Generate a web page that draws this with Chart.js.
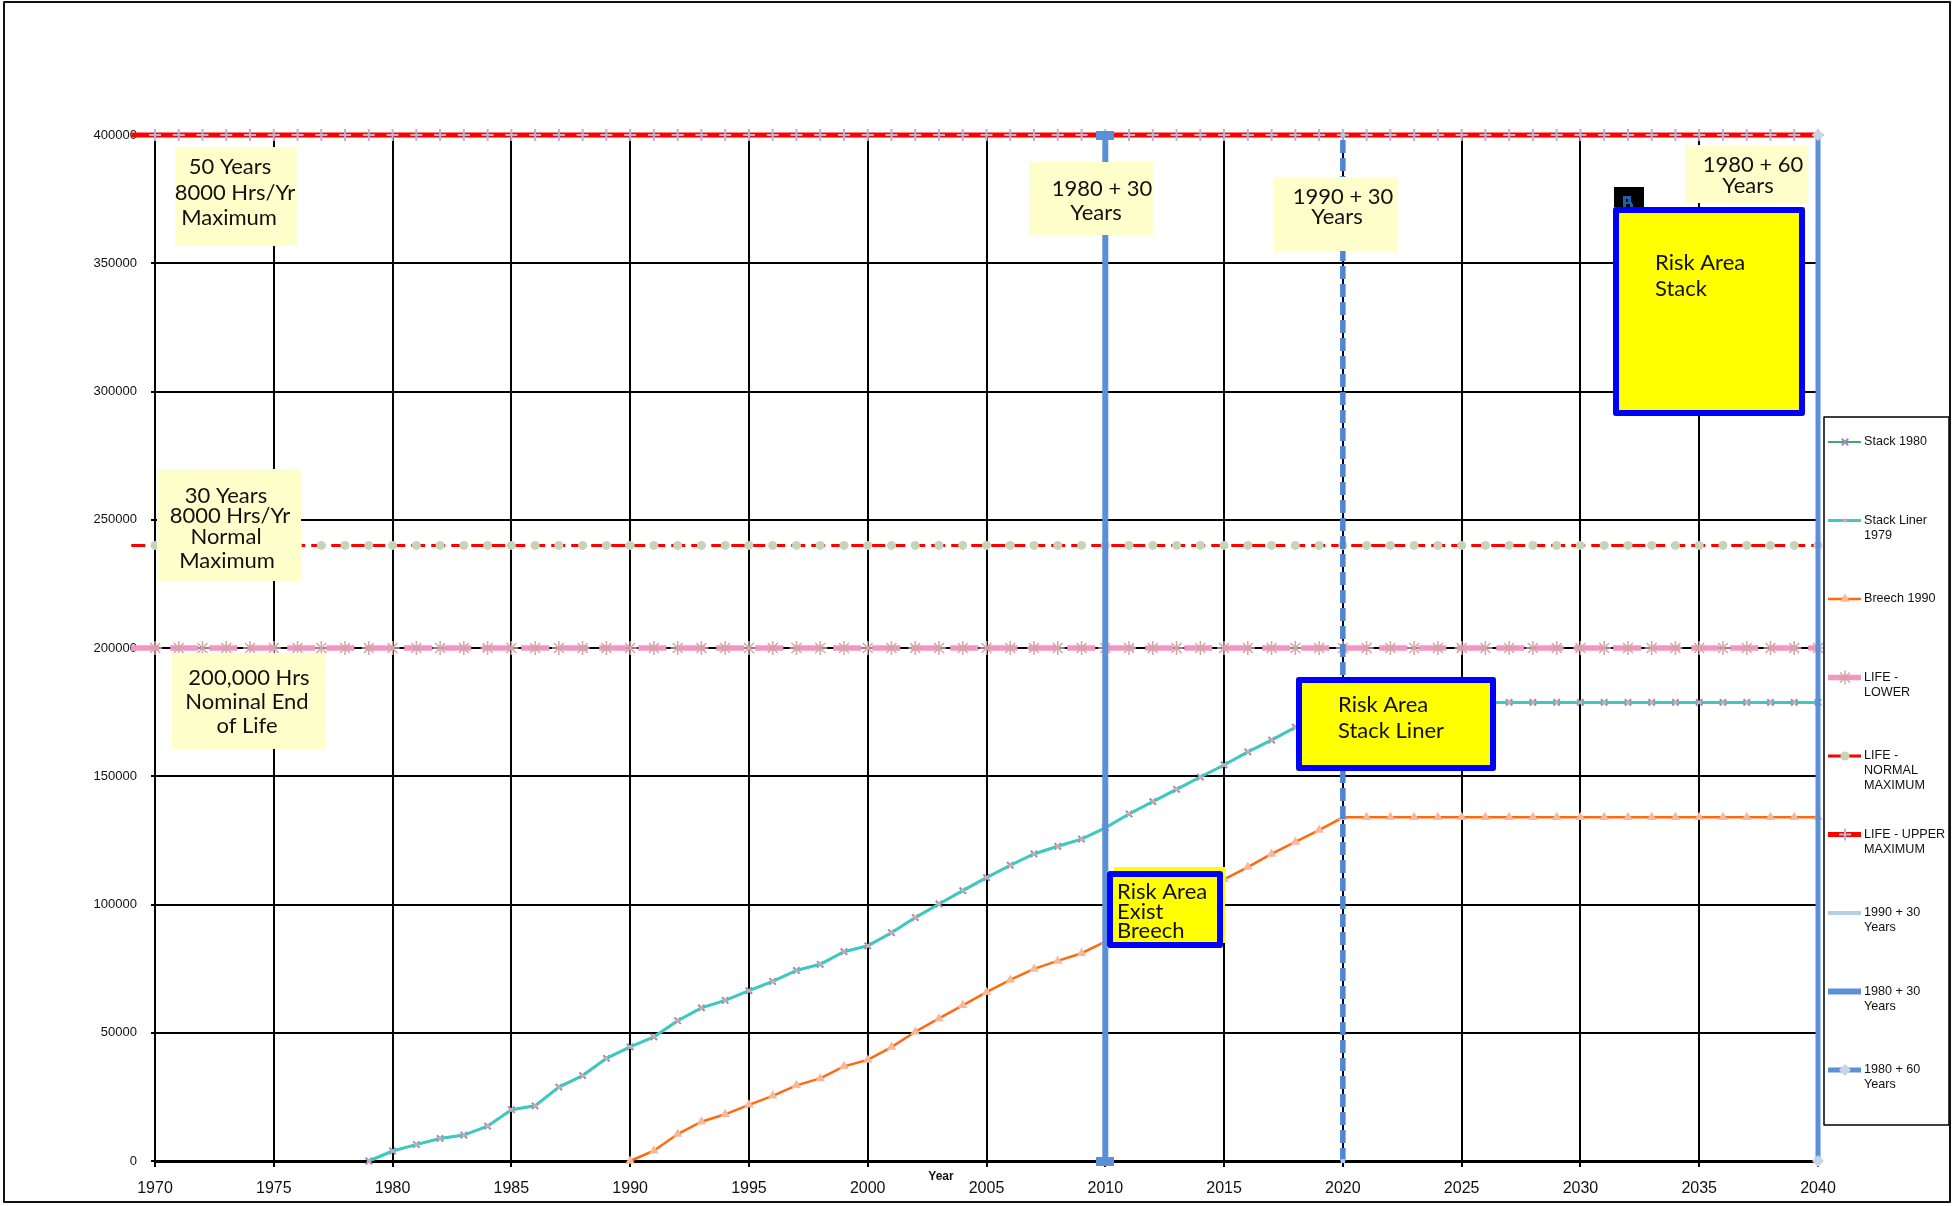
<!DOCTYPE html>
<html>
<head>
<meta charset="utf-8">
<title>Operating Hours - Stack, Liner and Breech</title>
<script src="https://cdn.jsdelivr.net/npm/chart.js@4.4.1/dist/chart.umd.min.js"></script>
<style>
  html, body { margin: 0; padding: 0; background: #fff; }
</style>
</head>
<body>
<canvas id="hoursChart" width="1953" height="1206"></canvas>
<script>
// cumulative running hours, one value per year
const stackStart = 1979;
const stackHours = [
  0, 3900, 6400, 8800, 10100, 13600, 20000, 21500, 28800, 33300,
  40000, 44500, 48400, 54700, 59700, 62600, 66400, 70000, 74300, 76700,
  81600, 83900, 89000, 94900, 100200, 105400, 110500, 115300, 119700, 122700,
  125500, 129900, 135300, 140100, 144900, 149700, 154400, 159500, 164100, 169100,
  174000, 178800, 178800, 178800, 178800, 178800, 178800, 178800, 178800, 178800,
  178800, 178800, 178800, 178800, 178800, 178800, 178800, 178800, 178800, 178800,
  178800, 178800
];

const breechStart = 1990;
const breechHours = [
  0, 4000, 10500, 15300, 18200, 21900, 25400, 29500, 32200, 36900,
  39400, 44400, 50400, 55600, 60700, 65800, 70600, 74900, 78000, 81000,
  85500, 90500, 95500, 100000, 105000, 109800, 114600, 119700, 124400, 129000,
  134000, 134000, 134000, 134000, 134000, 134000, 134000, 134000, 134000, 134000,
  134000, 134000, 134000, 134000, 134000, 134000, 134000, 134000, 134000, 134000,
  134000
];

// life limits (hours), drawn across every year
const lifeFirstYear = 1969;
const lifeLastYear = 2040;
const lifeLower = 200000;
const lifeNormal = 240000;
const lifeUpper = 400000;

// service-life milestones: 1990+30, 1980+30, 1980+60
const milestoneYears = [2020, 2010, 2040];
const milestoneSpan = [0, 400000];

const xTicks = { min: 1970, max: 2040, step: 5 };
const yTicks = { min: 0, max: 400000, step: 50000 };

const pts = (start, values) => values.map((y, i) => ({ x: start + i, y: y }));
const flat = (value) => {
  const out = [];
  for (let yr = lifeFirstYear; yr <= lifeLastYear; yr++) out.push({ x: yr, y: value });
  return out;
};
const vline = (year) => milestoneSpan.map(y => ({ x: year, y: y }));
// no marker on the lead-in point left of the axis
const edgeRadius = (r) => (c) => (c.raw && c.raw.x < xTicks.min ? 0 : r);

const blue = '#5B8FD8';
const barMark = document.createElement('canvas');
barMark.width = 18;
barMark.height = 9;
const bm = barMark.getContext('2d');
bm.fillStyle = blue;
bm.fillRect(0, 0, 18, 9);

const font = 'Arial, "Liberation Sans", sans-serif';
const noteFont = '22px Lato, Carlito, "Open Sans", sans-serif';

const datasets = [
  {
    label: 'Stack 1980', legendLines: ['Stack 1980'],
    data: pts(stackStart, stackHours),
    borderColor: '#3FA877', borderWidth: 2,
    pointStyle: 'crossRot', pointRadius: 4.5, pointBorderWidth: 2,
    pointBorderColor: '#9B88BE', pointBackgroundColor: '#9B88BE',
    order: 9
  },
  {
    label: 'Stack Liner 1979', legendLines: ['Stack Liner', '1979'],
    data: pts(stackStart, stackHours),
    borderColor: '#3DC8C2', borderWidth: 3,
    pointStyle: 'rect', pointRadius: 2.5, pointBorderWidth: 0,
    pointBorderColor: '#E2A2A2', pointBackgroundColor: '#E2A2A2',
    order: 8
  },
  {
    label: 'Breech 1990', legendLines: ['Breech 1990'],
    data: pts(breechStart, breechHours),
    borderColor: '#FF6A10', borderWidth: 2.5,
    pointStyle: 'triangle', pointRadius: 5.5, pointBorderWidth: 0,
    pointBorderColor: '#F8B898', pointBackgroundColor: '#F8B898',
    order: 7
  },
  {
    label: 'LIFE - LOWER', legendLines: ['LIFE -', 'LOWER'],
    data: flat(lifeLower),
    borderColor: '#F595C6', borderWidth: 5.5, borderDash: [28, 11],
    pointStyle: 'star', pointRadius: edgeRadius(7), pointBorderWidth: 1.5,
    pointBorderColor: '#D4A4A8', pointBackgroundColor: '#D4A4A8',
    order: 6
  },
  {
    label: 'LIFE - NORMAL MAXIMUM', legendLines: ['LIFE -', 'NORMAL', 'MAXIMUM'],
    data: flat(lifeNormal),
    borderColor: '#FF0000', borderWidth: 3, borderDash: [14, 6],
    pointStyle: 'circle', pointRadius: edgeRadius(4.5), pointBorderWidth: 0,
    pointBorderColor: '#C5D5B6', pointBackgroundColor: '#C5D5B6',
    order: 5
  },
  {
    label: 'LIFE - UPPER MAXIMUM', legendLines: ['LIFE - UPPER', 'MAXIMUM'],
    data: flat(lifeUpper),
    borderColor: '#FF0000', borderWidth: 5,
    pointStyle: 'cross', pointRadius: edgeRadius(6), pointBorderWidth: 2,
    pointBorderColor: '#B5B5D5', pointBackgroundColor: '#B5B5D5',
    order: 4
  },
  {
    label: '1990 + 30 Years', legendLines: ['1990 + 30', 'Years'],
    legendColor: '#B7CFE2', legendWidth: 4, legendNoMark: true,
    data: vline(milestoneYears[0]),
    borderColor: '#4F86D4', borderWidth: 5.5, borderDash: [13, 5],
    pointStyle: 'rect', pointRadius: 3, pointBorderWidth: 0,
    pointBorderColor: '#A9CBEA', pointBackgroundColor: '#A9CBEA',
    order: 3
  },
  {
    label: '1980 + 30 Years', legendLines: ['1980 + 30', 'Years'],
    legendWidth: 6, legendNoMark: true,
    data: vline(milestoneYears[1]),
    borderColor: blue, borderWidth: 6,
    pointStyle: barMark, pointRadius: 5, pointBorderWidth: 0,
    order: 2
  },
  {
    label: '1980 + 60 Years', legendLines: ['1980 + 60', 'Years'],
    data: vline(milestoneYears[2]),
    borderColor: blue, borderWidth: 5,
    pointStyle: 'rectRot', pointRadius: 6, pointBorderWidth: 0,
    pointBorderColor: '#C9D3E6', pointBackgroundColor: '#C9D3E6',
    order: 1
  }
];
datasets.forEach(d => { d.clip = false; d.tension = 0; d.fill = false; });

// pale text boxes: [x, y, w, h] and centred lines
const notes = [
  { box: [175, 147, 122, 99], lines: [['50 Years', 230, 167], ['8000 Hrs/Yr', 235, 193], ['Maximum', 229, 218]] },
  { box: [157, 469, 144, 112], lines: [['30 Years', 226, 496], ['8000 Hrs/Yr', 230, 516], ['Normal', 226, 537], ['Maximum', 227, 561]] },
  { box: [172, 653, 153, 96], lines: [['200,000 Hrs', 249, 678], ['Nominal End', 247, 702], ['of Life', 247, 726]] },
  { box: [1029, 162, 124, 73], lines: [['1980 + 30', 1102, 189], ['Years', 1096, 213]] },
  { box: [1274, 177, 124, 74], lines: [['1990 + 30', 1343, 197], ['Years', 1337, 217]] },
  { box: [1685, 145, 123, 58], lines: [['1980 + 60', 1753, 165], ['Years', 1748, 186]] }
];

// yellow risk boxes with blue frame, left aligned lines
const risks = [
  { box: [1613, 207, 192, 209], lines: [['Risk Area', 1655, 263], ['Stack', 1655, 289]] },
  { box: [1296, 677, 200, 94], lines: [['Risk Area', 1338, 705], ['Stack Liner', 1338, 731]] },
  { box: [1107, 871, 116, 77], lines: [['Risk Area', 1117, 892], ['Exist', 1117, 912], ['Breech', 1117, 931]] }
];

function drawMark(ctx, ds, x, y) {
  const style = ds.pointStyle;
  const r = typeof ds.pointRadius === 'function' ? ds.pointRadius({ raw: { x: xTicks.min } }) : ds.pointRadius;
  ctx.save();
  ctx.fillStyle = ds.pointBackgroundColor || ds.borderColor;
  ctx.strokeStyle = ds.pointBorderColor || ds.borderColor;
  ctx.lineWidth = ds.pointBorderWidth;
  if (Chart.helpers && Chart.helpers.drawPoint) {
    Chart.helpers.drawPoint(ctx, { pointStyle: style, radius: r, borderWidth: ds.pointBorderWidth, rotation: 0 }, x, y);
  } else {
    ctx.beginPath();
    ctx.arc(x, y, r, 0, Math.PI * 2);
    ctx.fill();
  }
  ctx.restore();
}

const overlay = {
  id: 'overlay',
  afterDraw(chart) {
    const ctx = chart.ctx;
    ctx.save();

    // text notes
    notes.forEach(n => {
      ctx.fillStyle = '#FFFFCC';
      ctx.fillRect(n.box[0], n.box[1], n.box[2], n.box[3]);
      ctx.fillStyle = '#111';
      ctx.font = noteFont;
      ctx.textAlign = 'center';
      ctx.textBaseline = 'middle';
      n.lines.forEach(l => ctx.fillText(l[0], l[1], l[2]));
    });

    // extra yellow sheet behind the breech box
    ctx.fillStyle = '#FFFF00';
    ctx.fillRect(1114, 867, 111, 76);

    // small black tag on the stack risk box
    ctx.fillStyle = '#000';
    ctx.fillRect(1614, 187, 30, 26);
    ctx.fillStyle = '#1F5FAF';
    ctx.fillRect(1623, 196, 3, 11);
    ctx.fillRect(1626, 196, 5, 3);
    ctx.fillRect(1628, 199, 3, 4);
    ctx.fillRect(1626, 202, 6, 2);
    ctx.fillRect(1630, 204, 3, 3);

    risks.forEach(r => {
      const [x, y, w, h] = r.box;
      ctx.fillStyle = '#FFFF00';
      ctx.fillRect(x, y, w, h);
      ctx.strokeStyle = '#0000FF';
      ctx.lineWidth = 6;
      ctx.lineJoin = 'round';
      ctx.strokeRect(x + 3, y + 3, w - 6, h - 6);
      ctx.fillStyle = '#111';
      ctx.font = noteFont;
      ctx.textAlign = 'left';
      ctx.textBaseline = 'middle';
      r.lines.forEach(l => ctx.fillText(l[0], l[1], l[2]));
    });

    // legend
    const lx = 1824, ly = 417, lw = 125, lh = 708;
    ctx.fillStyle = '#fff';
    ctx.fillRect(lx, ly, lw, lh);
    ctx.strokeStyle = '#000';
    ctx.lineWidth = 1.5;
    ctx.strokeRect(lx, ly, lw, lh);
    chart.data.datasets.forEach((ds, i) => {
      const y = 442 + i * 78.5;
      ctx.setLineDash([]);
      ctx.strokeStyle = ds.legendColor || ds.borderColor;
      ctx.lineWidth = ds.legendWidth || ds.borderWidth;
      ctx.beginPath();
      ctx.moveTo(1828, y);
      ctx.lineTo(1861, y);
      ctx.stroke();
      if (!ds.legendNoMark) drawMark(ctx, ds, 1845, y);
      ctx.fillStyle = '#111';
      ctx.font = '12.6px ' + font;
      ctx.textAlign = 'left';
      ctx.textBaseline = 'middle';
      ds.legendLines.forEach((t, k) => ctx.fillText(t, 1864, y + k * 15));
    });

    // x axis title
    ctx.fillStyle = '#111';
    ctx.font = 'bold 12px ' + font;
    ctx.textAlign = 'center';
    ctx.textBaseline = 'middle';
    ctx.fillText('Year', 941, 1177);

    // outer frame
    ctx.strokeStyle = '#111';
    ctx.lineWidth = 2;
    ctx.strokeRect(4, 2, 1946, 1200);
    ctx.restore();
  }
};

new Chart(document.getElementById('hoursChart'), {
  type: 'line',
  data: { datasets: datasets },
  plugins: [overlay],
  options: {
    responsive: false,
    animation: false,
    layout: { padding: { left: 0, top: 135, right: 135, bottom: 0 } },
    plugins: {
      legend: { display: false },
      tooltip: { enabled: false }
    },
    scales: {
      x: {
        type: 'linear',
        min: xTicks.min,
        max: xTicks.max,
        afterFit: s => { s.height = 45; },
        ticks: {
          stepSize: xTicks.step,
          autoSkip: false,
          maxRotation: 0,
          padding: 12,
          color: '#111',
          font: { family: font, size: 16 },
          callback: v => String(v)
        },
        grid: { color: '#000', lineWidth: 2, tickLength: 6 },
        border: { color: '#000', width: 3 }
      },
      y: {
        min: yTicks.min,
        max: yTicks.max,
        afterFit: s => { s.width = 155; },
        ticks: {
          stepSize: yTicks.step,
          padding: 14,
          color: '#111',
          font: { family: font, size: 13 },
          callback: v => String(v)
        },
        grid: { color: '#000', lineWidth: 2, tickLength: 4 },
        border: { color: '#000', width: 2 }
      }
    }
  }
});
</script>
</body>
</html>
